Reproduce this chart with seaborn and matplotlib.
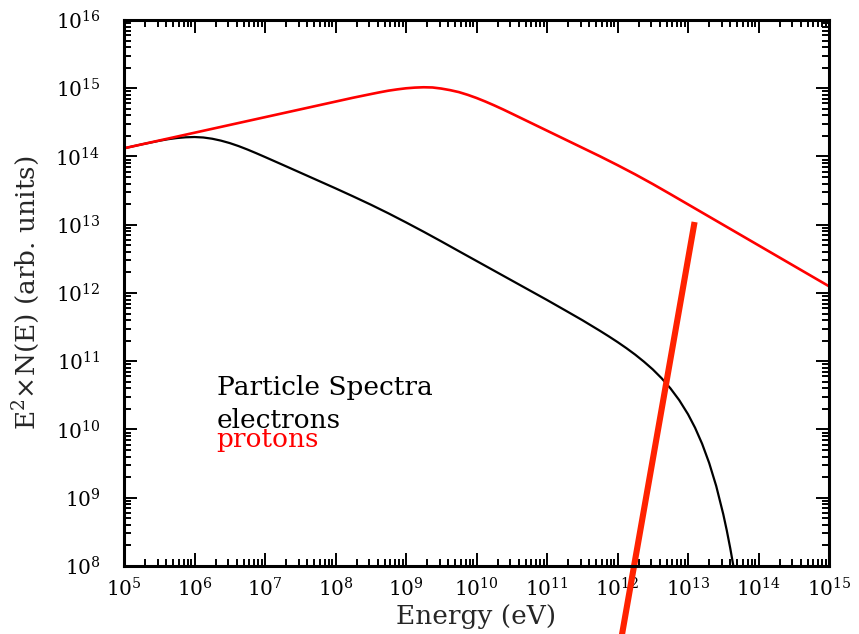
import numpy as np
import pandas as pd
import matplotlib
matplotlib.use("Agg")
import matplotlib.pyplot as plt
from matplotlib.ticker import LogLocator, LogFormatterMathtext, NullFormatter
import seaborn as sns

# log10(E / eV) and log10(E^2 N(E)) for the proton spectrum
proton_log_e = [5.0, 5.5, 6.0, 6.5, 7.0, 7.5, 8.0, 8.25, 8.5, 8.625, 8.75,
                8.875, 9.0, 9.125, 9.25, 9.375, 9.5, 9.625, 9.75, 9.875, 10.0,
                10.125, 10.25, 10.375, 10.5, 10.75, 11.0, 11.25, 11.5, 11.75,
                12.0, 12.25, 12.5, 12.75, 13.0, 13.25, 13.5, 13.75, 14.0,
                14.25, 14.5, 14.75, 15.0]
proton_log_f = [14.120, 14.234, 14.348, 14.462, 14.576, 14.690, 14.804, 14.861,
                14.914, 14.940, 14.964, 14.983, 14.999, 15.009, 15.014, 15.011,
                14.995, 14.972, 14.943, 14.903, 14.857, 14.805, 14.749, 14.690,
                14.628, 14.503, 14.378, 14.253, 14.128, 14.003, 13.873, 13.738,
                13.596, 13.448, 13.298, 13.148, 12.998, 12.848, 12.698, 12.548,
                12.398, 12.248, 12.098]

# log10(E / eV) and log10(E^2 N(E)) for the electron spectrum
electron_log_e = [5.0, 5.25, 5.5, 5.625, 5.75, 5.875, 6.0, 6.125, 6.25, 6.375,
                  6.5, 6.625, 6.75, 6.875, 7.0, 7.25, 7.5, 7.75, 8.0, 8.25, 8.5,
                  8.75, 9.0, 9.25, 9.5, 9.75, 10.0, 10.25, 10.5, 10.75, 11.0,
                  11.25, 11.5, 11.75, 11.875, 12.0, 12.125, 12.25, 12.375, 12.5,
                  12.625, 12.75, 12.875, 13.0, 13.1, 13.2, 13.3, 13.4, 13.5,
                  13.55, 13.6, 13.65, 13.7]
electron_log_f = [14.120, 14.177, 14.230, 14.253, 14.270, 14.281, 14.285,
                  14.278, 14.260, 14.232, 14.196, 14.152, 14.102, 14.048, 13.992,
                  13.878, 13.763, 13.648, 13.533, 13.415, 13.294, 13.167, 13.034,
                  12.897, 12.756, 12.612, 12.469, 12.326, 12.183, 12.040, 11.897,
                  11.750, 11.602, 11.446, 11.365, 11.281, 11.192, 11.097, 10.993,
                  10.880, 10.751, 10.603, 10.430, 10.223, 10.025, 9.790, 9.509,
                  9.171, 8.758, 8.519, 8.254, 7.960, 7.634]

# straight steep segment (log10 E, log10 E^2 N)
segment_log_e = [12.047, 13.093]
segment_log_f = [6.90, 13.04]

labels = ["Particle Spectra", "electrons", "protons"]

sns.set_theme(style="ticks")
plt.rcParams["font.family"] = ["DejaVu Serif"]
plt.rcParams["mathtext.fontset"] = "dejavuserif"

protons = pd.DataFrame({"E": 10.0 ** np.array(proton_log_e),
                        "F": 10.0 ** np.array(proton_log_f)})
electrons = pd.DataFrame({"E": 10.0 ** np.array(electron_log_e),
                          "F": 10.0 ** np.array(electron_log_f)})
segment = pd.DataFrame({"E": 10.0 ** np.array(segment_log_e),
                        "F": 10.0 ** np.array(segment_log_f)})

fig = plt.figure(figsize=(8.59, 6.34), dpi=100)
ax = fig.add_axes([0.1444, 0.1073, 0.8207, 0.8612])
ax.set_xscale("log")
ax.set_yscale("log")

sns.lineplot(data=electrons, x="E", y="F", ax=ax, color="black", lw=1.6)
sns.lineplot(data=protons, x="E", y="F", ax=ax, color="#ff0000", lw=1.9)
sns.lineplot(data=segment, x="E", y="F", ax=ax, color="#ff2200", lw=4.4,
             solid_capstyle="butt", clip_on=False)

ax.set_xlim(1e5, 1e15)
ax.set_ylim(1e8, 1e16)

for axis in (ax.xaxis, ax.yaxis):
    axis.set_major_locator(LogLocator(base=10, numticks=30))
    axis.set_minor_locator(LogLocator(base=10, subs=np.arange(2, 10), numticks=30))
    axis.set_major_formatter(LogFormatterMathtext())
    axis.set_minor_formatter(NullFormatter())

ax.tick_params(which="both", direction="in", top=True, right=True,
               colors="black", width=1.4)
ax.tick_params(which="major", length=9.5)
ax.tick_params(which="minor", length=5)
ax.tick_params(axis="x", which="major", labelsize=14.5, pad=8)
ax.tick_params(axis="y", which="major", labelsize=14.5, pad=17)
for s in ax.spines.values():
    s.set_linewidth(2.2)
    s.set_color("black")

ax.set_xlabel("Energy (eV)", fontsize=19, labelpad=3)
ax.set_ylabel(r"E$^{\mathdefault{2}}$×N(E) (arb. units)", fontsize=19,
              labelpad=10)

ax.text(0.1315, 0.313, labels[0], transform=ax.transAxes, fontsize=19,
        color="black", va="baseline", ha="left")
ax.text(0.1315, 0.252, labels[1], transform=ax.transAxes, fontsize=19,
        color="black", va="baseline", ha="left")
ax.text(0.1315, 0.217, labels[2], transform=ax.transAxes, fontsize=19,
        color="#ff0000", va="baseline", ha="left")

fig.savefig("out.png", dpi=100)
